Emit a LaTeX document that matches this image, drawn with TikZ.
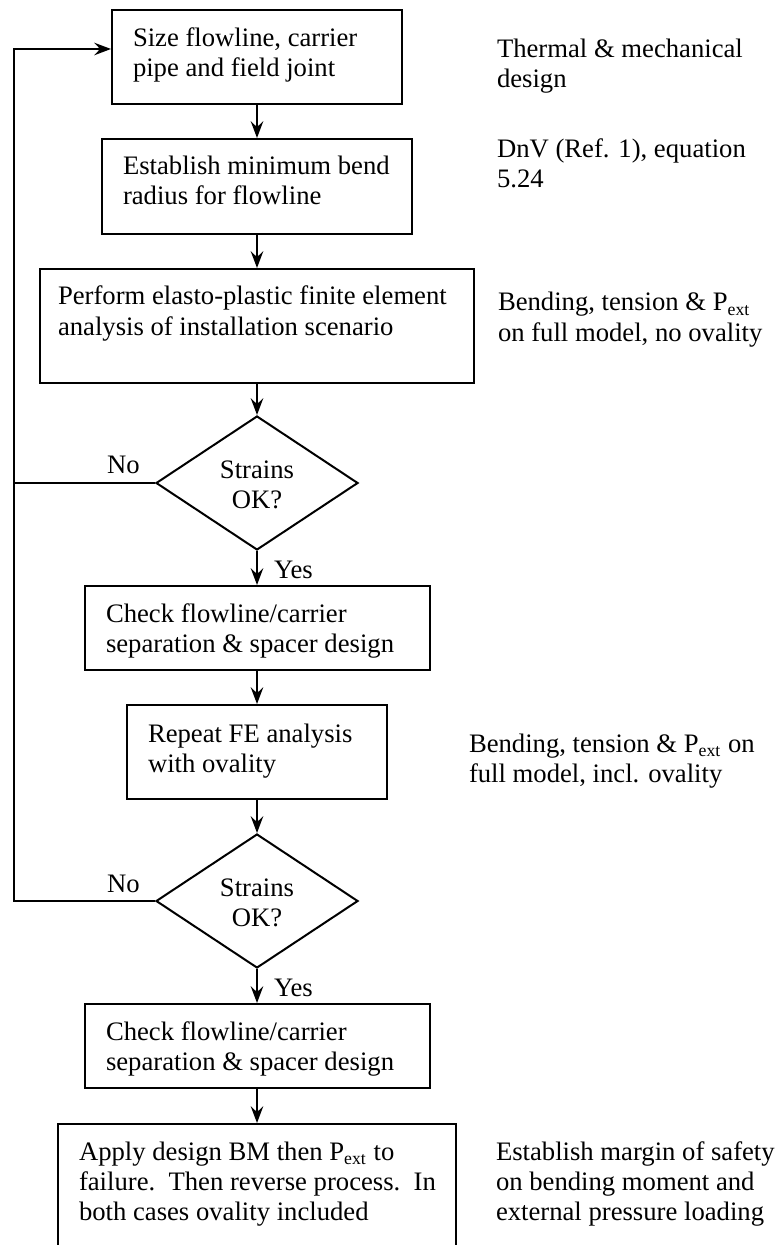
\documentclass[tikz,border=0pt]{standalone}
\usepackage{fontspec}
\setmainfont{Liberation Serif}
\usetikzlibrary{shapes.geometric,arrows.meta}
\begin{document}
\begin{tikzpicture}[x=0.45pt,y=-0.45pt, line width=0.9pt,
  box/.style={draw, rectangle, inner sep=0pt},
  dia/.style={draw, diamond, inner sep=0pt, minimum width=90.9pt, minimum height=60.3pt},
  txt/.style={font=\fontsize{12}{13.5}\selectfont, align=left, inner sep=0pt, anchor=base west},
  ctxt/.style={font=\fontsize{12}{13.5}\selectfont, align=center, inner sep=0pt},
  arr/.style={-{Stealth[length=7.5pt,width=5.6pt,inset=2.6pt]}}
  ]
\useasboundingbox (0,0) rectangle (782,1245);

% boxes
\node[box, minimum width=130.5pt, minimum height=42.3pt] (b1) at (257,57) {};
\node[box, minimum width=139.5pt, minimum height=42.75pt] (b2) at (257,186.5) {};
\node[box, minimum width=195.3pt, minimum height=51.3pt] (b3) at (257,326) {};
\node[dia] (d1) at (257,483) {};
\node[box, minimum width=155.25pt, minimum height=37.8pt] (b4) at (257,628) {};
\node[box, minimum width=117pt, minimum height=42.3pt] (b5) at (257,752) {};
\node[dia] (d2) at (257,901) {};
\node[box, minimum width=155.25pt, minimum height=37.8pt] (b6) at (257,1046) {};
\node[box, minimum width=179.1pt, minimum height=79.2pt] (b7) at (257,1212) {};

% box texts (anchor = baseline of the last line)
\node[txt] (tb1) at (132,77) {Size flowline, carrier\\pipe and field joint};
\node[txt] (tb2) at (122,205) {Establish minimum bend\\radius for flowline};
\node[txt] (tb3) at (57,335) {Perform elasto-plastic finite element\\analysis of installation scenario};
\node[ctxt] (td1) at (257,485) {Strains\\OK?};
\node[txt] (tb4) at (105,652) {Check flowline/carrier\\separation \& spacer design};
\node[txt] (tb5) at (147,772) {Repeat FE analysis\\with ovality};
\node[ctxt] (td2) at (257,903) {Strains\\OK?};
\node[txt] (tb6) at (105,1070) {Check flowline/carrier\\separation \& spacer design};
\node[txt] (tb7) at (78,1220) {Apply design BM then P\textsubscript{ext} to\\failure.\ \ Then reverse process.\ \ In\\both cases ovality included};

% side notes
\node[txt] (s1) at (496,88) {Thermal \& mechanical\\design};
\node[txt] (s2) at (496,188) {DnV (Ref. 1), equation\\5.24};
\node[txt] (s3) at (497,341) {Bending, tension \& P\textsubscript{ext}\\on full model, no ovality};
\node[txt] (s4) at (468,782) {Bending, tension \& P\textsubscript{ext} on\\full model, incl. ovality};
\node[txt] (s5) at (495,1220) {Establish margin of safety\\on bending moment and\\external pressure loading};

% labels
\node[txt] (no1) at (106,473) {No};
\node[txt] (no2) at (106,892) {No};
\node[txt] (yes1) at (273,578) {Yes};
\node[txt] (yes2) at (273,996) {Yes};

% flow arrows
\draw[arr] (b1) -- (b2);
\draw[arr] (b2) -- (b3);
\draw[arr] (b3) -- (d1);
\draw[arr] (d1) -- (b4);
\draw[arr] (b4) -- (b5);
\draw[arr] (b5) -- (d2);
\draw[arr] (d2) -- (b6);
\draw[arr] (b6) -- (b7);

% loop back
\coordinate (lx) at (14,0);
\coordinate (in) at ([yshift=3.6pt]b1.west);
\draw (d1.west) -- (d1.west -| lx);
\draw[arr] (d2.west) -- (d2.west -| lx) -- (lx |- in) -- (in);
\end{tikzpicture}
\end{document}
